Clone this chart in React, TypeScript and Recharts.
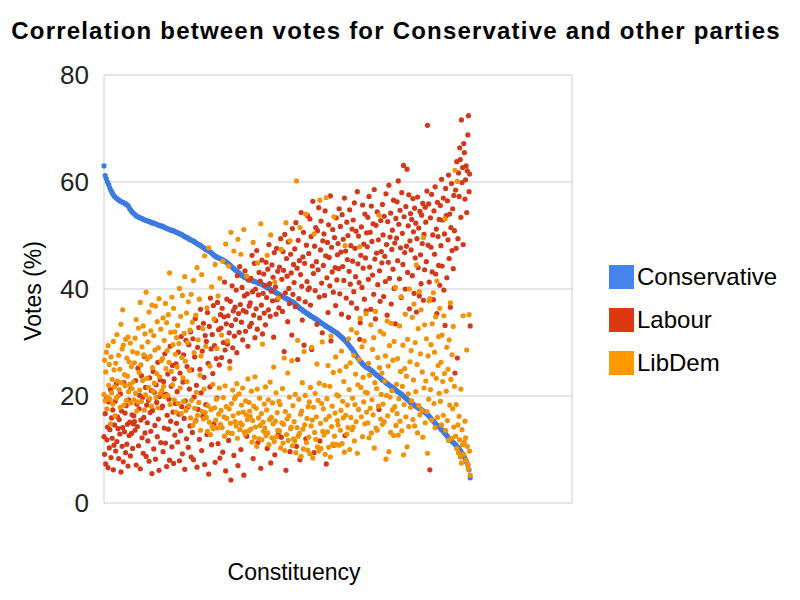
import React from "react";
import {
  ScatterChart,
  Scatter,
  XAxis,
  YAxis,
  CartesianGrid,
} from "recharts";

// vote share (%) per constituency, constituencies sorted by Conservative share
// Conservative is read every 2nd constituency (the curve is smooth)
const conservativeStep = 2;
const conservativeVotes = [
  63.0, 61.2, 60.6, 60.0, 59.5, 58.9, 58.4, 58.0, 57.6, 57.3, 57.1, 56.9, 56.7, 56.6, 56.4, 56.3, 56.2, 56.1, 56.0, 55.8, 55.7, 55.4, 55.0, 54.7, 54.4,
  54.2, 54.0, 53.8, 53.6, 53.5, 53.4, 53.3, 53.2, 53.1, 53.0, 52.9, 52.8, 52.7, 52.7, 52.6, 52.5, 52.4, 52.3, 52.3, 52.2, 52.1, 52.0, 51.9, 51.8, 51.8,
  51.7, 51.6, 51.5, 51.4, 51.3, 51.2, 51.1, 51.0, 51.0, 50.9, 50.8, 50.7, 50.6, 50.5, 50.4, 50.3, 50.2, 50.1, 49.9, 49.8, 49.7, 49.6, 49.5, 49.3, 49.2,
  49.1, 49.0, 48.9, 48.7, 48.6, 48.4, 48.3, 48.2, 48.0, 47.9, 47.7, 47.6, 47.4, 47.3, 47.2, 47.0, 46.9, 46.7, 46.5, 46.3, 46.2, 46.0, 45.9, 45.8, 45.7,
  45.6, 45.5, 45.4, 45.2, 45.1, 44.9, 44.8, 44.6, 44.4, 44.2, 44.0, 43.8, 43.6, 43.4, 43.3, 43.1, 42.9, 42.7, 42.5, 42.4, 42.2, 42.1, 42.0, 41.9, 41.8,
  41.7, 41.6, 41.5, 41.5, 41.4, 41.3, 41.2, 41.1, 41.0, 41.0, 40.9, 40.7, 40.6, 40.5, 40.3, 40.2, 40.1, 40.0, 39.8, 39.7, 39.6, 39.5, 39.3, 39.2, 39.1,
  38.9, 38.8, 38.7, 38.6, 38.4, 38.3, 38.2, 38.1, 38.0, 37.8, 37.7, 37.6, 37.5, 37.3, 37.1, 36.9, 36.7, 36.5, 36.3, 36.2, 36.0, 35.8, 35.7, 35.5, 35.4,
  35.2, 35.1, 34.9, 34.8, 34.7, 34.5, 34.4, 34.3, 34.1, 33.9, 33.8, 33.6, 33.5, 33.3, 33.2, 33.0, 32.9, 32.8, 32.6, 32.5, 32.3, 32.2, 32.1, 31.9, 31.8,
  31.6, 31.4, 31.2, 31.0, 30.8, 30.6, 30.4, 30.1, 29.9, 29.6, 29.3, 29.0, 28.8, 28.4, 28.1, 27.8, 27.4, 27.1, 26.8, 26.5, 26.3, 26.0, 25.8, 25.6, 25.4,
  25.3, 25.2, 25.0, 24.9, 24.7, 24.5, 24.3, 24.1, 23.9, 23.8, 23.6, 23.4, 23.2, 23.0, 22.9, 22.7, 22.5, 22.3, 22.2, 22.0, 21.8, 21.7, 21.5, 21.3, 21.2,
  21.0, 20.8, 20.7, 20.5, 20.4, 20.2, 20.0, 19.8, 19.6, 19.4, 19.2, 19.0, 18.8, 18.7, 18.5, 18.3, 18.2, 18.0, 17.9, 17.7, 17.6, 17.5, 17.3, 17.2, 17.0,
  16.8, 16.7, 16.4, 16.2, 15.9, 15.7, 15.4, 15.2, 14.9, 14.7, 14.5, 14.3, 14.1, 13.8, 13.6, 13.4, 13.1, 12.9, 12.6, 12.3, 12.0, 11.8, 11.6, 11.4, 11.2,
  11.0, 10.8, 10.5, 10.3, 10.0, 9.7, 9.3, 9.0, 8.6, 8.2, 7.6, 7.0, 6.2, 4.7,
];

const labourVotes = [
  12.4, 9.1, 16.7, 7.3, 19.5, 11.8, 14.2, 6.6, 18.9, 10.3, 13.7, 21.2, 8.5, 15.9, 12.1, 17.4, 6.2, 10.8, 14.6, 19.0, 9.7, 22.3, 11.5, 16.1, 13.9,
  8.3, 15.6, 12.9, 20.4, 5.8, 17.2, 10.6, 14.1, 7.7, 22.5, 13.3, 16.8, 9.4, 18.2, 11.0, 14.7, 6.9, 19.3, 12.6, 15.1, 8.8, 21.4, 13.0, 16.5, 10.2,
  14.8, 16.3, 15.2, 13.6, 22.9, 7.1, 18.5, 14.3, 25.2, 10.7, 17.6, 20.1, 6.4, 15.5, 23.8, 12.2, 19.7, 9.3, 16.0, 27.4, 13.1, 21.6, 8.7, 18.3, 15.0,
  11.6, 19.2, 7.8, 23.4, 16.9, 13.4, 21.0, 5.5, 17.3, 24.6, 10.1, 20.7, 14.5, 8.2, 22.1, 18.8, 12.4, 26.3, 15.7, 6.1, 19.9, 23.0, 11.3, 17.8, 20.5,
  18.1, 9.6, 22.7, 14.0, 27.9, 11.2, 20.3, 6.8, 16.4, 24.1, 13.8, 19.4, 8.0, 29.3, 15.3, 21.8, 10.5, 25.7, 17.0, 7.4, 23.2, 12.7, 18.6, 26.0, 14.9,
  20.8, 11.4, 28.2, 16.6, 7.9, 24.3, 13.5, 31.1, 18.0, 9.2, 22.6, 27.7, 15.8, 6.3, 19.1, 30.4, 12.0, 25.5, 17.9, 10.4, 29.6, 21.3, 14.4, 32.0, 8.6,
  24.9, 13.2, 30.7, 8.1, 19.8, 27.3, 34.5, 15.4, 22.0, 6.7, 29.1, 17.5, 32.8, 11.9, 25.0, 36.2, 20.6, 9.8, 28.4, 16.2, 33.6, 23.5, 7.2, 31.3, 18.4,
  30.2, 12.8, 35.6, 26.1, 5.4, 33.0, 21.7, 38.3, 28.8, 10.9, 31.5, 24.2, 36.9, 14.8, 29.4, 7.6, 34.1, 27.0, 19.6, 37.5, 11.1, 32.4, 25.8, 8.4, 35.2,
  32.7, 27.2, 36.4, 9.5, 30.0, 34.8, 41.3, 28.6, 6.0, 33.5, 38.1, 29.7, 35.0, 11.7, 31.8, 26.5, 37.7, 4.3, 33.2, 40.6, 29.0, 35.9, 8.9, 31.2, 36.6,
  34.3, 39.8, 28.1, 42.5, 7.0, 35.4, 31.9, 44.2, 37.1, 10.0, 33.8, 40.3, 30.5, 36.0, 5.2, 38.7, 43.4, 32.1, 35.7, 12.5, 39.1, 29.3, 41.7, 36.8, 33.0,
  37.4, 42.0, 33.6, 46.3, 39.5, 8.3, 35.1, 44.8, 30.9, 40.0, 36.3, 47.2, 32.5, 11.3, 38.9, 43.1, 34.6, 41.5, 6.5, 37.0, 45.4, 31.6, 39.2, 42.8, 35.5,
  40.7, 33.3, 45.0, 38.4, 10.2, 43.7, 36.1, 48.3, 41.0, 34.9, 7.5, 39.6, 44.5, 37.8, 42.2, 31.0, 46.8, 9.0, 40.4, 35.3, 47.6, 38.0, 43.3, 12.9, 36.5,
  44.1, 38.6, 49.4, 12.3, 41.8, 35.8, 47.0, 43.5, 28.3, 50.2, 39.3, 6.1, 45.7, 42.4, 33.9, 48.8, 40.1, 37.3, 9.6, 46.5, 43.0, 31.4, 51.3, 39.0, 44.6,
  41.2, 47.5, 36.7, 52.4, 10.6, 43.9, 26.8, 49.1, 38.2, 45.3, 8.1, 42.7, 54.3, 40.5, 34.2, 46.0, 50.6, 29.5, 44.8, 37.6, 12.0, 48.2, 41.4, 53.7, 39.9,
  46.6, 40.2, 53.1, 37.0, 49.8, 28.7, 44.3, 56.4, 42.9, 9.4, 48.0, 39.7, 51.5, 45.1, 33.4, 50.9, 43.6, 55.2, 38.5, 11.6, 47.3, 52.7, 41.1, 31.8, 49.0,
  44.4, 50.3, 38.8, 54.6, 46.2, 7.3, 42.1, 48.7, 35.6, 52.0, 45.9, 40.6, 57.4, 30.3, 47.8, 43.2, 51.1, 39.4, 10.8, 49.6, 44.0, 36.9, 53.3, 41.7, 46.4,
  48.5, 43.8, 55.0, 39.1, 51.7, 46.9, 35.3, 53.9, 44.2, 49.3, 41.6, 57.0, 12.6, 47.1, 38.3, 52.5, 45.5, 50.0, 34.7, 43.3, 54.8, 40.9, 48.1, 37.4, 51.2,
  45.2, 52.9, 39.5, 56.1, 47.6, 42.3, 50.8, 36.4, 58.2, 44.7, 49.9, 41.2, 30.6, 33.7, 46.3, 51.6, 40.3, 55.7, 43.9, 48.4, 38.1, 54.0, 45.8, 35.9, 50.5,
  47.9, 53.4, 41.8, 57.3, 44.1, 50.6, 36.2, 55.5, 48.9, 42.6, 52.2, 39.0, 58.6, 45.6, 34.4, 51.9, 46.7, 54.4, 40.8, 49.2, 17.5, 43.4, 37.7, 52.8, 47.0,
  44.9, 55.8, 50.1, 38.6, 53.6, 46.1, 41.4, 57.8, 48.3, 35.1, 52.6, 45.0, 59.4, 42.0, 49.7, 54.2, 37.2, 47.4, 51.0, 43.7, 56.6, 40.1, 48.6, 33.5, 53.2,
  49.5, 56.3, 45.3, 60.2, 52.1, 41.9, 54.7, 47.7, 38.4, 58.0, 50.4, 44.6, 63.1, 53.5, 46.8, 40.0, 55.4, 48.0, 62.4, 43.1, 51.8, 57.6, 36.3, 49.0, 54.1,
  47.3, 53.0, 42.5, 56.9, 50.7, 39.2, 55.1, 45.8, 52.3, 35.7, 49.4, 57.2, 44.0, 51.4, 38.7, 54.5, 46.4, 41.0, 53.8, 48.5, 56.0, 37.9, 50.2, 43.6, 55.3,
  52.5, 45.1, 58.3, 70.6, 48.2, 55.9, 41.3, 6.2, 53.3, 47.8, 57.7, 43.2, 50.1, 38.0, 54.6, 46.5, 59.1, 42.8, 51.2, 35.4, 56.2, 49.8, 44.4, 53.0, 40.7,
  55.6, 48.1, 60.5, 44.3, 52.9, 57.0, 39.8, 50.3, 33.2, 58.8, 53.7, 42.1, 56.5, 49.2, 61.3, 45.7, 54.0, 36.6, 51.5, 59.7, 47.2, 55.0, 43.8, 57.5, 50.9,
  24.3, 58.5, 47.6, 63.8, 27.1, 49.4, 61.7, 57.3, 66.4, 64.2, 53.4, 71.6, 59.9, 62.7, 48.3, 67.2, 65.5, 56.8, 60.4, 63.0, 54.3, 62.1, 68.8, 72.4, 58.2, 61.5, 33.1,
];

const libDemVotes = [
  20.3, 26.7, 19.1, 24.5, 28.2, 17.6, 19.8, 29.4, 22.0, 25.9, 19.4, 14.8, 27.3, 20.6, 23.1, 18.5, 30.2, 24.9, 21.7, 16.3, 26.1, 19.6, 31.5, 22.8, 20.0,
  27.6, 21.2, 25.0, 17.9, 33.4, 22.5, 28.8, 36.1, 29.5, 18.3, 24.0, 21.9, 30.6, 19.2, 27.1, 23.7, 31.0, 20.8, 26.4, 22.2, 29.9, 18.7, 25.5, 21.4, 28.3,
  22.6, 19.3, 26.2, 30.8, 20.5, 34.3, 17.2, 28.0, 18.9, 32.7, 24.4, 21.1, 37.5, 25.8, 19.0, 29.2, 22.9, 33.1, 27.7, 17.4, 31.6, 20.2, 39.4, 23.3, 26.9,
  30.1, 21.6, 35.7, 19.5, 27.4, 32.2, 18.1, 37.0, 25.3, 20.9, 31.3, 22.4, 28.6, 36.8, 19.7, 24.2, 33.9, 17.8, 29.0, 38.2, 23.6, 20.4, 32.5, 26.6, 21.0,
  27.0, 34.6, 21.8, 30.4, 19.9, 37.3, 25.1, 33.7, 28.5, 20.1, 35.2, 26.3, 43.0, 18.4, 31.9, 24.6, 38.5, 22.1, 29.6, 36.4, 19.3, 32.0, 27.8, 17.0, 30.9,
  25.4, 33.2, 18.6, 29.8, 40.1, 21.5, 34.9, 16.7, 27.2, 38.8, 23.4, 19.0, 31.7, 42.3, 26.5, 17.3, 35.5, 22.7, 30.0, 37.6, 18.2, 24.8, 32.3, 15.9, 39.0,
  19.2, 33.8, 14.5, 41.6, 28.1, 17.7, 15.3, 35.1, 20.7, 44.0, 16.4, 30.5, 18.8, 38.1, 23.9, 13.6, 27.5, 42.7, 17.1, 32.6, 15.7, 21.3, 46.2, 16.9, 29.3,
  16.0, 36.5, 13.4, 18.2, 47.7, 15.1, 25.6, 12.8, 17.5, 40.4, 14.3, 22.2, 13.9, 34.4, 17.8, 44.6, 15.5, 19.4, 28.9, 14.0, 38.7, 16.6, 21.5, 42.0, 14.7,
  17.3, 31.4, 14.1, 45.2, 19.7, 16.1, 12.5, 21.9, 48.4, 18.0, 15.8, 30.3, 13.2, 44.3, 17.6, 25.2, 14.9, 50.6, 18.6, 13.0, 21.1, 16.3, 47.1, 19.5, 15.2,
  19.9, 14.4, 22.3, 12.1, 49.3, 16.8, 20.4, 13.7, 15.0, 46.5, 18.3, 14.6, 21.5, 17.0, 51.1, 13.3, 12.9, 19.1, 16.5, 42.4, 15.6, 23.2, 13.5, 18.8, 17.2,
  16.2, 13.8, 20.9, 11.4, 15.4, 48.7, 18.1, 12.3, 23.6, 14.2, 17.7, 10.6, 21.3, 44.9, 15.9, 12.0, 19.6, 14.5, 52.2, 16.7, 11.8, 29.7, 15.1, 13.4, 18.5,
  14.0, 21.7, 12.6, 17.4, 46.3, 13.1, 19.3, 10.9, 15.6, 22.6, 50.1, 16.0, 12.2, 18.7, 14.8, 25.4, 11.5, 41.3, 15.3, 20.6, 12.4, 16.9, 13.6, 38.3, 19.0,
  13.5, 18.4, 10.3, 47.4, 15.0, 21.4, 11.2, 14.7, 27.1, 9.8, 17.1, 52.4, 12.8, 15.7, 24.3, 11.7, 16.3, 19.8, 49.0, 13.9, 14.2, 26.6, 10.7, 18.2, 12.0,
  15.2, 11.6, 20.3, 9.4, 60.2, 14.1, 30.4, 12.5, 19.4, 13.0, 51.5, 16.6, 8.7, 17.2, 22.5, 13.8, 10.1, 28.3, 14.6, 20.1, 54.0, 11.3, 15.8, 9.9, 18.0,
  12.3, 18.9, 9.2, 21.6, 14.4, 29.1, 15.5, 8.4, 17.9, 50.3, 13.2, 20.5, 11.9, 16.1, 26.0, 10.5, 19.2, 9.7, 22.4, 56.6, 14.9, 10.2, 18.6, 30.1, 13.4,
  17.6, 12.7, 22.0, 9.1, 15.6, 57.1, 19.5, 13.3, 25.7, 10.4, 16.2, 21.8, 8.6, 31.2, 14.3, 18.1, 11.0, 24.4, 53.5, 12.5, 16.8, 27.3, 10.9, 20.2, 15.4,
  14.6, 20.0, 10.8, 24.7, 13.6, 17.3, 28.4, 11.1, 19.0, 15.9, 22.7, 9.5, 48.1, 16.4, 25.5, 12.9, 18.3, 14.1, 30.7, 21.2, 10.0, 26.2, 16.0, 32.4, 13.7,
  19.6, 14.2, 27.6, 11.6, 18.4, 24.1, 15.2, 31.8, 9.3, 22.1, 17.5, 26.8, 47.9, 34.5, 21.6, 16.1, 29.2, 12.4, 23.5, 18.9, 30.3, 14.8, 20.7, 35.4, 17.0,
  20.6, 15.0, 26.1, 12.2, 23.9, 17.7, 33.3, 13.1, 19.3, 28.7, 16.5, 30.9, 10.3, 22.5, 35.8, 14.0, 21.4, 13.6, 27.2, 18.1, 53.8, 25.3, 32.1, 15.7, 20.3,
  24.3, 14.7, 18.5, 31.6, 15.2, 22.8, 27.5, 8.2, 20.1, 34.0, 16.3, 25.6, 9.6, 29.4, 19.8, 13.2, 33.6, 21.0, 17.4, 26.7, 12.6, 30.2, 18.0, 40.3, 14.5,
  22.2, 16.7, 27.0, 12.7, 19.5, 33.1, 15.3, 24.6, 38.6, 13.5, 21.8, 29.5, 9.0, 18.4, 25.1, 35.3, 16.1, 23.7, 10.5, 30.6, 20.4, 14.3, 40.0, 26.4, 17.9,
  28.5, 19.1, 34.7, 15.6, 23.0, 37.2, 14.4, 30.0, 20.8, 44.5, 25.9, 13.1, 32.6, 18.2, 39.5, 16.5, 27.9, 36.1, 17.3, 24.5, 12.3, 49.6, 21.5, 33.3, 15.0,
  22.8, 30.7, 17.1, 9.3, 27.5, 19.4, 37.8, 38.2, 21.2, 29.6, 15.5, 33.5, 24.1, 39.3, 18.6, 28.2, 14.1, 34.8, 23.3, 41.5, 16.0, 25.7, 31.1, 20.5, 36.4,
  19.0, 26.3, 14.6, 31.4, 22.7, 16.4, 35.0, 24.2, 53.1, 13.6, 20.9, 29.1, 15.4, 25.0, 11.7, 30.5, 18.3, 37.4, 23.1, 12.1, 27.7, 17.6, 33.0, 14.2, 21.8,
  62.2, 12.5, 18.4, 10.2, 60.1, 14.6, 9.4, 16.2, 11.8, 8.6, 21.3, 7.5, 13.7, 10.9, 35.0, 9.1, 11.4, 15.3, 12.2, 8.0, 28.6, 10.6, 7.2, 6.3, 35.2, 9.7, 5.2,
];

const xTicks = [0, 200, 400, 600, 800];
const yTicks = [0, 20, 40, 60, 80];

const seriesNames = ["Conservative", "Labour", "LibDem"];
const legendColors = ["#4684ee", "#dc3912", "#ff9900"];
const dotColors = ["#3d7be3", "#d2381a", "#f29307"];

const conservativeData = conservativeVotes.map((v, i) => ({ x: i * conservativeStep, y: v }));
const labourData = labourVotes.map((v, i) => ({ x: i, y: v }));
const libDemData = libDemVotes.map((v, i) => ({ x: i, y: v }));

const font = "'Liberation Sans', Arial, sans-serif";

const dot = (color: string) => (props: any) =>
  <circle cx={props.cx} cy={props.cy} r={2.6} fill={color} />;

export default function App() {
  return (
    <div style={{ position: "absolute", left: 0, top: 0, width: 800, height: 600, background: "#fff", fontFamily: font }}>
      <div
        style={{
          position: "absolute",
          left: 0,
          width: 792,
          top: 16,
          textAlign: "center",
          fontSize: 24,
          fontWeight: "bold",
          letterSpacing: 1.2,
          lineHeight: "30px",
          color: "#000",
        }}
      >
        Correlation between votes for Conservative and other parties
      </div>

      <ScatterChart
        width={800}
        height={600}
        margin={{ top: 75, right: 228, bottom: 97, left: 44 }}
      >
        <CartesianGrid stroke="#cccccc" strokeWidth={1} />
        <XAxis
          type="number"
          dataKey="x"
          domain={[0, 800]}
          ticks={xTicks}
          tick={false}
          axisLine={false}
          tickLine={false}
          height={0}
        />
        <YAxis
          type="number"
          dataKey="y"
          domain={[0, 80]}
          ticks={yTicks}
          width={60}
          axisLine={false}
          tickLine={false}
          tickSize={0}
          tickMargin={15}
          tick={{ fontSize: 26, fill: "#222", fontFamily: font }}
        />
        <Scatter data={conservativeData} shape={dot(dotColors[0])} isAnimationActive={false} />
        <Scatter data={labourData} shape={dot(dotColors[1])} isAnimationActive={false} />
        <Scatter data={libDemData} shape={dot(dotColors[2])} isAnimationActive={false} />
      </ScatterChart>

      <div
        style={{
          position: "absolute",
          left: 33,
          top: 291,
          transform: "translate(-50%, -50%) rotate(-90deg)",
          fontSize: 23,
          whiteSpace: "nowrap",
          color: "#000",
        }}
      >
        Votes (%)
      </div>

      <div
        style={{
          position: "absolute",
          left: 294,
          top: 572,
          transform: "translate(-50%, -50%)",
          fontSize: 23,
          whiteSpace: "nowrap",
          color: "#000",
        }}
      >
        Constituency
      </div>

      {seriesNames.map((name, i) => (
        <div
          key={name}
          style={{ position: "absolute", left: 609, top: 265 + i * 43, height: 24, display: "flex", alignItems: "center" }}
        >
          <div style={{ width: 25, height: 24, background: legendColors[i] }} />
          <span style={{ marginLeft: 3, fontSize: 24, color: "#000", lineHeight: "24px" }}>{name}</span>
        </div>
      ))}
    </div>
  );
}
